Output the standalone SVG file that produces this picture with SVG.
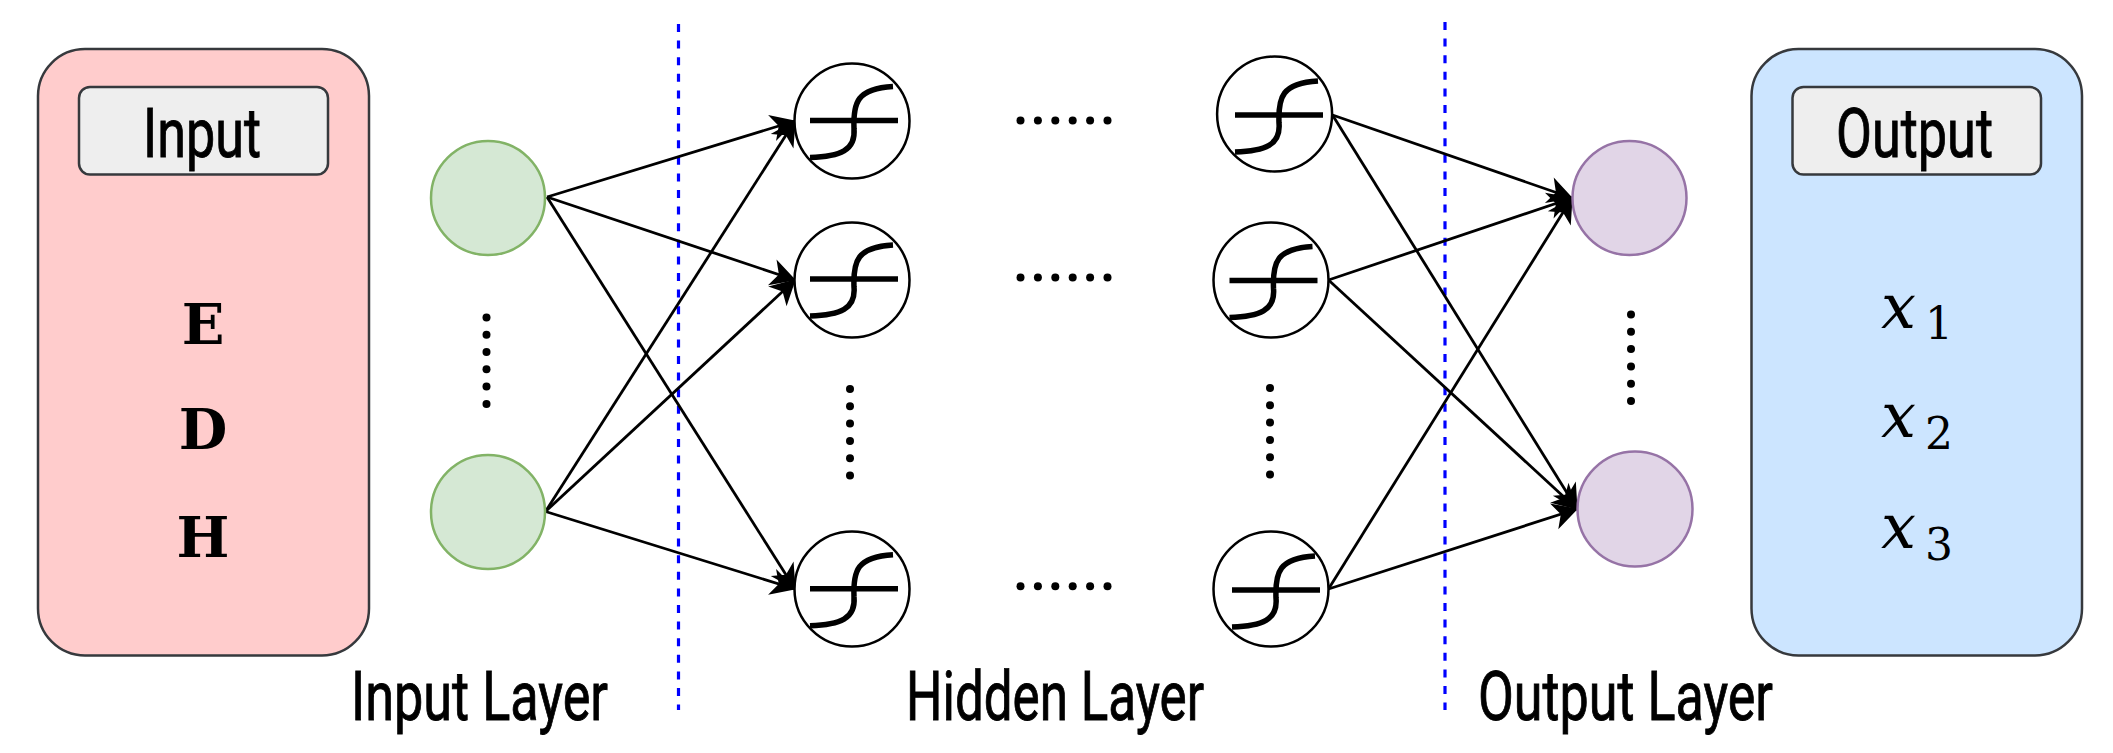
<svg xmlns="http://www.w3.org/2000/svg" width="2113" height="753" viewBox="0 0 2113 753">
<style>
.box{stroke:#36393d;stroke-width:2.5}
.lab{fill:#eeeeee}
.t{font-family:Roboto,"Liberation Sans",sans-serif;font-size:69px;fill:#000;stroke:#000;stroke-width:.9;text-anchor:start}
.m{font-family:"DejaVu Serif",serif;font-weight:bold;font-size:56px;fill:#000;text-anchor:middle}
.x{font-family:"DejaVu Serif",serif;fill:#000}
.g{fill:#d5e8d4;stroke:#82b366;stroke-width:2.5}
.p{fill:#e1d5e7;stroke:#9673a6;stroke-width:2.5}
.h{fill:#fff;stroke:#000;stroke-width:2.5}
.s{fill:none;stroke:#000;stroke-width:5.5}
.e{stroke:#000;stroke-width:2.8;fill:none;marker-end:url(#a)}
.d{stroke:#0000ff;stroke-width:3.2;stroke-dasharray:8 8.6;fill:none}
.dots{fill:#000}
</style>
<defs>
<marker id="a" markerUnits="userSpaceOnUse" markerWidth="30" markerHeight="30" refX="25" refY="15" orient="auto" viewBox="0 0 30 30"><path d="M26 15 L1 1.5 L8 15 L1 28.5 Z" fill="#000"/></marker>
<g id="sig"><path class="s" d="M-44 37C-14 36 2 30 0 8C-1-18 3-32 39-34"/><path class="s" d="M-44 0H44"/></g>
<g id="v"><circle cx="0" cy="0" r="4"/><circle cx="0" cy="17.3" r="4"/><circle cx="0" cy="34.6" r="4"/><circle cx="0" cy="51.9" r="4"/><circle cx="0" cy="69.2" r="4"/><circle cx="0" cy="86.5" r="4"/></g>
<g id="w"><circle cx="0" cy="0" r="4"/><circle cx="17.4" cy="0" r="4"/><circle cx="34.8" cy="0" r="4"/><circle cx="52.2" cy="0" r="4"/><circle cx="69.6" cy="0" r="4"/><circle cx="87" cy="0" r="4"/></g>
</defs>
<rect width="2113" height="753" fill="#fff"/>
<g id="input-panel">
<rect class="box" x="38" y="49" width="331" height="606.5" rx="47" fill="#ffcccc"/>
<rect class="box lab" x="79" y="87" width="249" height="87.5" rx="11"/>
<text class="t" x="143" y="157" textLength="118" lengthAdjust="spacingAndGlyphs">Input</text>
<text class="m" x="203" y="344">E</text>
<text class="m" x="203" y="449">D</text>
<text class="m" x="203" y="557">H</text>
</g>
<g id="output-panel">
<rect class="box" x="1751.5" y="49" width="330.5" height="606.5" rx="47" fill="#cce5ff"/>
<rect class="box lab" x="1792.5" y="87" width="248.5" height="87.5" rx="11"/>
<text class="t" x="1836" y="157" textLength="157" lengthAdjust="spacingAndGlyphs">Output</text>
<text class="x"><tspan x="1881" y="328" font-size="62" font-style="italic">x</tspan><tspan x="1925" y="338.5" font-size="44">1</tspan></text>
<text class="x"><tspan x="1881" y="437" font-size="62" font-style="italic">x</tspan><tspan x="1925" y="449" font-size="44">2</tspan></text>
<text class="x"><tspan x="1881" y="548" font-size="62" font-style="italic">x</tspan><tspan x="1925" y="559.5" font-size="44">3</tspan></text>
</g>
<g id="separators">
<path class="d" d="M678.5 24V710"/>
<path class="d" d="M1445 22V710"/>
</g>
<g id="connectors">
<path class="e" d="M547 197L795 121"/>
<path class="e" d="M547 197L795 280"/>
<path class="e" d="M547 197L795 589"/>
<path class="e" d="M545.5 511.5L795 121"/>
<path class="e" d="M545.5 511.5L795 280"/>
<path class="e" d="M545.5 511.5L795 589"/>
<path class="e" d="M1332.5 115L1572 198"/>
<path class="e" d="M1332.5 115L1577 509"/>
<path class="e" d="M1328.5 280L1572 198"/>
<path class="e" d="M1328.5 280L1577 509"/>
<path class="e" d="M1328.5 589L1572 198"/>
<path class="e" d="M1328.5 589L1577 509"/>
</g>
<g id="input-1"><circle class="g" cx="488" cy="198" r="57"/></g>
<g id="input-2"><circle class="g" cx="488" cy="512" r="57"/></g>
<g id="output-1"><circle class="p" cx="1629.5" cy="198" r="57"/></g>
<g id="output-2"><circle class="p" cx="1635" cy="509" r="57.5"/></g>
<g id="hidden-1-1"><circle class="h" cx="852" cy="121" r="57.5"/><use href="#sig" x="854" y="120.5"/></g>
<g id="hidden-1-2"><circle class="h" cx="852" cy="280" r="57.5"/><use href="#sig" x="854" y="279"/></g>
<g id="hidden-1-3"><circle class="h" cx="852" cy="589" r="57.5"/><use href="#sig" x="854" y="588.7"/></g>
<g id="hidden-2-1"><circle class="h" cx="1274.6" cy="114" r="57.5"/><use href="#sig" x="1279" y="115"/></g>
<g id="hidden-2-2"><circle class="h" cx="1271" cy="280" r="57.5"/><use href="#sig" x="1273.5" y="280.4"/></g>
<g id="hidden-2-3"><circle class="h" cx="1271" cy="589" r="57.5"/><use href="#sig" x="1276" y="590"/></g>
<g id="ellipses" class="dots">
<use href="#v" x="486.5" y="317.4"/>
<use href="#v" x="850" y="389"/>
<use href="#v" x="1270" y="388"/>
<use href="#v" x="1631" y="314.5"/>
<use href="#w" x="1020.5" y="120.5"/>
<use href="#w" x="1020.5" y="277.6"/>
<use href="#w" x="1020.5" y="586.3"/>
</g>
<g id="layer-labels">
<text class="t" x="351" y="720" textLength="257" lengthAdjust="spacingAndGlyphs">Input Layer</text>
<text class="t" x="906" y="720" textLength="298" lengthAdjust="spacingAndGlyphs">Hidden Layer</text>
<text class="t" x="1478" y="720" textLength="295" lengthAdjust="spacingAndGlyphs">Output Layer</text>
</g>
</svg>
